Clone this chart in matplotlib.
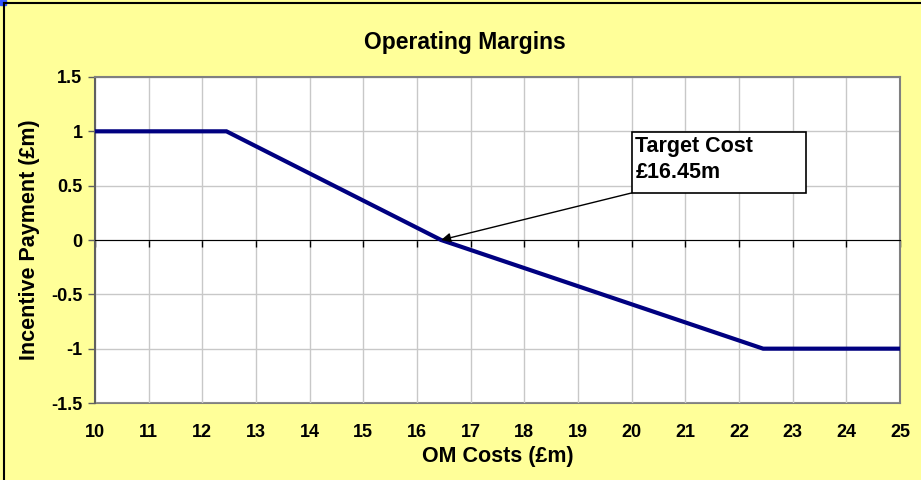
import matplotlib.pyplot as plt
from matplotlib.patches import Rectangle

plt.rcParams['font.family'] = ['Liberation Sans', 'DejaVu Sans']

# data
om_costs = [10, 12.45, 16.45, 22.45, 25]
payment = [1, 1, 0, -1, -1]
target_cost = 16.45
x_ticks = list(range(10, 26))
y_ticks = [-1.5, -1, -0.5, 0, 0.5, 1, 1.5]
y_labels = ['-1.5', '-1', '-0.5', '0', '0.5', '1', '1.5']

fig = plt.figure(figsize=(9.21, 4.8), dpi=100, facecolor='#ffff99')
ax = fig.add_axes([0.1031, 0.1604, 0.8741, 0.6792])
ax.set_facecolor('white')

ax.plot(om_costs, payment, color='#000080', lw=3, solid_joinstyle='miter', zorder=3)

ax.set_xlim(10, 25)
ax.set_ylim(-1.5, 1.5)
ax.set_xticks(x_ticks)
ax.set_yticks(y_ticks)
ax.set_yticklabels(y_labels)
ax.grid(True, color='#c8c8c8', lw=1)
ax.set_axisbelow(True)

# x axis drawn through zero, labels kept at bottom via secondary axis
ax.spines['bottom'].set_position(('data', 0))
ax.spines['bottom'].set_color('black')
ax.tick_params(axis='x', direction='out', length=5, width=1, labelbottom=False)
for s in ['top', 'right']:
    ax.spines[s].set_color('#808080')
    ax.spines[s].set_linewidth(1.5)
ax.spines['left'].set_color('#606060')
ax.spines['left'].set_linewidth(1.5)
ax.tick_params(axis='y', direction='out', length=5, width=1, color='#606060',
               labelsize=13, pad=4)
for lab in ax.get_yticklabels():
    lab.set_fontweight('bold')

sec = ax.secondary_xaxis(0)
sec.set_xticks(x_ticks)
sec.tick_params(length=0, pad=15, labelsize=13)
sec.spines['bottom'].set_color('#808080')
sec.spines['bottom'].set_linewidth(1.5)
for lab in sec.get_xticklabels():
    lab.set_fontweight('bold')
sec.set_xlabel('OM Costs (£m)', fontsize=15.5, fontweight='bold', labelpad=4)

ax.set_ylabel('Incentive Payment (£m)', fontsize=15.5, fontweight='bold')
ax.yaxis.set_label_coords(-0.081, 0.5)
ax.yaxis.label.set_va('center')
fig.text(0.505, 0.9125, 'Operating Margins', ha='center', va='center',
         fontsize=16.5, fontweight='bold')

# annotation box
box_x0, box_y0, box_x1, box_y1 = 20.0, 0.433, 23.25, 0.994
ax.add_patch(Rectangle((box_x0, box_y0), box_x1 - box_x0, box_y1 - box_y0,
                       facecolor='white', edgecolor='black', lw=1.2, zorder=4))
ax.text(box_x0 + 0.07, box_y1 - 0.04, 'Target Cost\n£16.45m', ha='left', va='top',
        fontsize=15.5, fontweight='bold', linespacing=1.3, zorder=5)
ax.annotate('', xy=(target_cost, 0), xytext=(box_x0, box_y0),
            arrowprops=dict(arrowstyle='-|>', color='black', lw=1,
                            mutation_scale=14, shrinkA=0, shrinkB=0), zorder=5)

# chart frame edges visible in the crop
fig.add_artist(plt.Line2D([0.004, 0.004], [0, 0.993], color='black', lw=1.5,
                          transform=fig.transFigure))
fig.add_artist(plt.Line2D([0.004, 1], [0.993, 0.993], color='black', lw=1.5,
                          transform=fig.transFigure))
fig.add_artist(Rectangle((0, 0.99), 0.006, 0.01, color='#3355ff',
                         transform=fig.transFigure))

fig.savefig('out.png', dpi=100, facecolor=fig.get_facecolor())
